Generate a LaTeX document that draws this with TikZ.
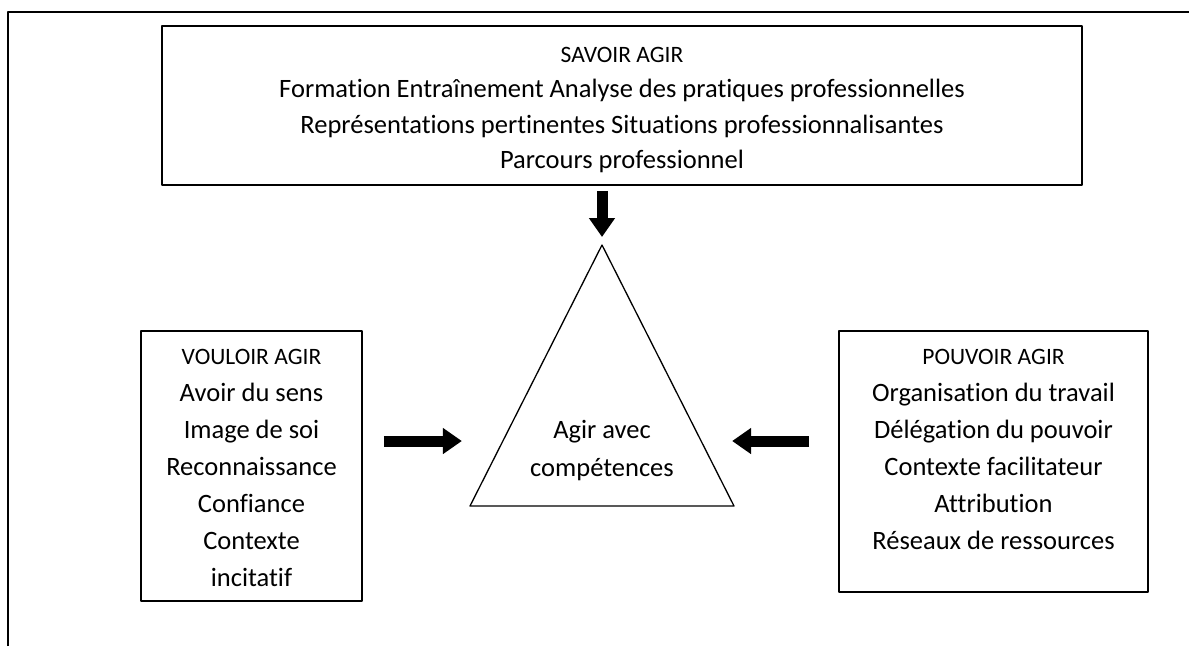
\documentclass[tikz,border=0pt]{standalone}
\usepackage{fontspec}
\setmainfont{Carlito}[Ligatures=NoCommon]
\usetikzlibrary{arrows.meta,positioning,calc}
\newcommand{\titre}{\fontsize{23.5}{37}\selectfont}
\begin{document}
\begin{tikzpicture}[x=1pt, y=-1pt, font=\fontsize{26.5}{37}\selectfont, line join=round,
		cadre/.style={draw, line width=1.8pt, inner sep=0pt},
		texte/.style={align=center, inner sep=0pt},
		fleche/.style={line width=11pt, -{Triangle[length=19pt,width=25pt]}}]
		\useasboundingbox (0,0) rectangle (1189,646);
		\draw[line width=1.8pt] (8,646)--(8,12)--(1189,12);
		% les trois cadres
		\node[cadre, minimum width=920, minimum height=159] (savoir) at (622,105.5) {};
		\node[cadre, minimum width=221, minimum height=270] (vouloir) at (251.5,466) {};
		\node[cadre, minimum width=309, minimum height=261] (pouvoir) at (993.5,461.5) {};
		\node[texte, font=\fontsize{26.5}{35.5}\selectfont, below=21.5pt of savoir.north] (savoirtexte)
		{{\titre SAVOIR AGIR}\\Formation Entraînement Analyse des pratiques professionnelles\\
			Représentations pertinentes Situations professionnalisantes\\Parcours professionnel};
		\node[texte, below=18.5pt of vouloir.north] (vouloirtexte)
		{{\titre VOULOIR AGIR}\\Avoir du sens\\Image de soi\\Reconnaissance\\Confiance\\Contexte\\incitatif};
		\node[texte, below=18.5pt of pouvoir.north] (pouvoirtexte)
		{{\titre POUVOIR AGIR}\\Organisation du travail\\Délégation du pouvoir\\Contexte facilitateur\\Attribution\\Réseaux de ressources};
		% le triangle
		\coordinate (apex) at (602,245);
		\coordinate (bl) at (470,506);
		\coordinate (br) at (734,506);
		\draw[line width=1.3pt] (apex)--(bl)--(br)--cycle;
		\node[texte, font=\fontsize{26.5}{38}\selectfont] (agir) at (602,451) {Agir avec\\compétences};
		\coordinate (g) at ($(apex)!.751!(bl)$);
		\coordinate (d) at ($(apex)!.751!(br)$);
		% les fleches
		\draw[fleche, shorten <=5pt, shorten >=8pt] (savoir.south -| apex) -- (apex);
		\draw[fleche, shorten <=21pt, shorten >=41pt] (vouloir.east |- g) -- (g);
		\draw[fleche, shorten <=29pt, shorten >=31pt] (pouvoir.west |- d) -- (d);
	\end{tikzpicture}
\end{document}
